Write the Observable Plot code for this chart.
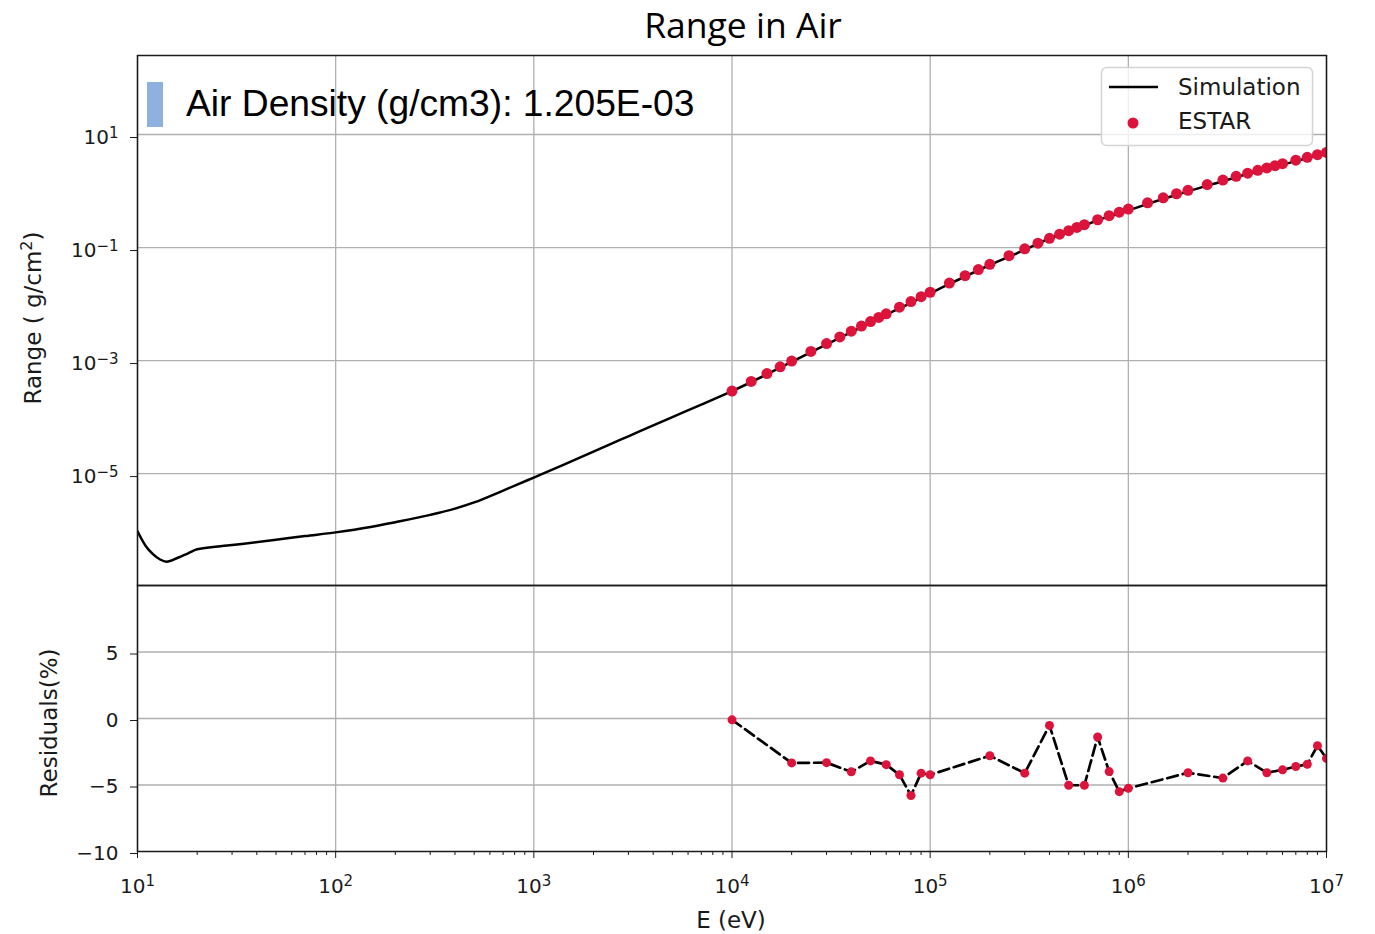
<!DOCTYPE html>
<html>
<head>
<meta charset="utf-8">
<script src="https://cdn.jsdelivr.net/npm/d3@7"></script>
<script src="https://cdn.jsdelivr.net/npm/@observablehq/plot@0.6"></script>
<style>
  html, body { margin: 0; padding: 0; background: white; }
  #wrap { position: relative; width: 1375px; height: 934px; overflow: hidden; background: white; }
  #top, #bottom, #overlay { position: absolute; left: 0; }
  #top { top: 0; }
  #bottom { top: 585px; }
  #overlay { top: 0; pointer-events: none; }
  svg { overflow: visible; }
</style>
</head>
<body>
<div id="wrap">
  <div id="top"></div>
  <div id="bottom"></div>
  <svg id="overlay" width="1375" height="934" xmlns="http://www.w3.org/2000/svg">
    <text x="743" y="38" text-anchor="middle" font-family="Open Sans" font-size="35.5" fill="#000">Range in Air</text>
    <rect x="147" y="82" width="16" height="45" fill="#8eb1df"></rect>
    <text x="186" y="116" font-family="Liberation Sans" font-size="37.2" fill="#000">Air Density (g/cm3): 1.205E-03</text>
    <rect x="1101.5" y="67.5" width="211" height="78" rx="5" fill="white" fill-opacity="0.8" stroke="#d4d4d4" stroke-width="1.5"></rect>
    <line x1="1109" x2="1158" y1="87" y2="87" stroke="black" stroke-width="2.5"></line>
    <circle cx="1133" cy="123" r="5.5" fill="#dc143c"></circle>
    <text x="1178" y="95" font-family="DejaVu Sans" font-size="23" fill="#1a1a1a">Simulation</text>
    <text x="1178" y="129" font-family="DejaVu Sans" font-size="23" fill="#1a1a1a">ESTAR</text>
    <text transform="translate(41,318) rotate(-90)" text-anchor="middle" font-family="DejaVu Sans" font-size="23" fill="#1a1a1a">Range ( g/cm<tspan dy="-9" font-size="16">2</tspan><tspan dy="9">)</tspan></text>
    <text transform="translate(57,723) rotate(-90)" text-anchor="middle" font-family="DejaVu Sans" font-size="23" fill="#1a1a1a">Residuals(%)</text>
    <text x="731" y="928" text-anchor="middle" font-family="DejaVu Sans" font-size="23" fill="#1a1a1a">E (eV)</text>
  </svg>
</div>
<script>
// ---------------- data ----------------
// ESTAR CSDA range in air (energy in eV, range in g/cm^2)
const estarE = [1e4,1.25e4,1.5e4,1.75e4,2e4,2.5e4,3e4,3.5e4,4e4,4.5e4,5e4,5.5e4,6e4,7e4,8e4,9e4,
  1e5,1.25e5,1.5e5,1.75e5,2e5,2.5e5,3e5,3.5e5,4e5,4.5e5,5e5,5.5e5,6e5,7e5,8e5,9e5,
  1e6,1.25e6,1.5e6,1.75e6,2e6,2.5e6,3e6,3.5e6,4e6,4.5e6,5e6,5.5e6,6e6,7e6,8e6,9e6,1e7];
const estarR = [2.88e-4,4.27e-4,5.89e-4,7.74e-4,9.80e-4,1.452e-3,2.002e-3,2.625e-3,3.318e-3,4.078e-3,4.902e-3,5.787e-3,6.731e-3,8.788e-3,1.106e-2,1.353e-2,
  1.618e-2,2.355e-2,3.178e-2,4.078e-2,5.050e-2,7.17e-2,9.50e-2,1.197e-1,1.454e-1,1.720e-1,1.991e-1,2.266e-1,2.543e-1,3.104e-1,3.667e-1,4.230e-1,
  4.793e-1,6.19e-1,7.58e-1,8.95e-1,1.031,1.298,1.560,1.818,2.071,2.320,2.565,2.806,3.043,3.506,3.955,4.392,4.817];

// Simulation curve (energy in eV, range in g/cm^2)
const simE = [10,11,12,13,14,16,18,20,30,50,70,100,150,200,300,400,500,700,1000,1400,2000,3000,5000,7000,
  1e4,2e4,3e4,4e4,5e4,6e4,7e4,8e4,9e4,1e5,2e5,3e5,4e5,5e5,6e5,7e5,8e5,9e5,
  1e6,2e6,3e6,4e6,5e6,6e6,7e6,8e6,9e6,1e7];
const simR = [9.55e-7,5.25e-7,3.72e-7,3.02e-7,2.75e-7,3.24e-7,3.89e-7,4.57e-7,5.43e-7,6.76e-7,7.85e-7,9.12e-7,1.135e-6,1.38e-6,1.86e-6,2.40e-6,3.09e-6,5.01e-6,8.51e-6,1.41e-5,2.45e-5,4.57e-5,1.0e-4,1.66e-4,
  2.877e-4,9.47e-4,1.936e-3,3.185e-3,4.745e-3,6.497e-3,8.416e-3,1.042e-2,1.298e-2,1.550e-2,4.909e-2,9.11e-2,0.1447,0.1891,0.2416,0.3061,0.3520,0.3997,
  0.4541,0.9888,1.490,2.005,2.460,2.924,3.380,3.820,4.302,4.672];

// Residuals (%)
const resE = [1e4,2e4,3e4,4e4,5e4,6e4,7e4,8e4,9e4,1e5,2e5,3e5,4e5,5e5,6e5,7e5,8e5,9e5,
  1e6,2e6,3e6,4e6,5e6,6e6,7e6,8e6,9e6,1e7];
const resV = [-0.1,-3.34,-3.32,-4.01,-3.19,-3.47,-4.23,-5.79,-4.11,-4.23,-2.80,-4.11,-0.52,-5.02,-5.02,-1.39,-3.99,-5.50,
  -5.25,-4.08,-4.48,-3.19,-4.08,-3.86,-3.61,-3.44,-2.05,-3.0];

// ticks
const decades = [10,100,1000,1e4,1e5,1e6,1e7];
const minorTicks = [20,30,40,50,60,70,80,90,200,300,400,500,600,700,800,900,
  2000,3000,4000,5000,6000,7000,8000,9000,2e4,3e4,4e4,5e4,6e4,7e4,8e4,9e4,
  2e5,3e5,4e5,5e5,6e5,7e5,8e5,9e5,2e6,3e6,4e6,5e6,6e6,7e6,8e6,9e6];
const rangeTicks = [10,0.1,1e-3,1e-5];
const resTicks = [-10,-5,0,5];
const resGrid = [-5,0,5];

// ---------------- tables ----------------
const estar = estarE.map((E,i) => ({E, R: estarR[i]}));
const sim = simE.map((E,i) => ({E, R: simR[i]}));
const res = resE.map((E,i) => ({E, V: resV[i]}));

// "10^k" labels; the exponent is turned into a superscript tspan after rendering
const pow10 = d => { const k = Math.round(Math.log10(d)); return "10^" + (k < 0 ? "\u2212" + (-k) : String(k)); };
function superscripts(svg) {
  d3.select(svg).selectAll("text").each(function() {
    const m = this.textContent.match(/^10\^(.+)$/);
    if (m) {
      const s = d3.select(this);
      s.text("10");
      s.append("tspan").attr("dy", "-0.42em").attr("font-size", "0.75em").text(m[1]);
    }
  });
  return svg;
}

const gridColor = "#b0b0b0";
const common = {
  width: 1375,
  marginLeft: 137,
  marginRight: 49,
  style: {fontFamily: "DejaVu Sans", fontSize: "20px", background: "transparent", color: "#1a1a1a", overflow: "visible"}
};

const topPlot = Plot.plot({
  ...common,
  height: 590,
  marginTop: 55,
  marginBottom: 5,
  x: {type: "log", domain: [10, 1e7], axis: null},
  y: {type: "log", domain: [Math.pow(10, -6.98), Math.pow(10, 2.398)]},
  marks: [
    Plot.gridX(decades, {stroke: gridColor, strokeOpacity: 1, strokeWidth: 1.3}),
    Plot.gridY(rangeTicks, {stroke: gridColor, strokeOpacity: 1, strokeWidth: 1.3}),
    Plot.axisY(rangeTicks, {tickSize: 7, tickPadding: 12, tickFormat: pow10, label: null, dy: 3, stroke: "#1a1a1a"}),
    Plot.line(sim, {x: "E", y: "R", stroke: "black", strokeWidth: 2.5, curve: "monotone-x", clip: true}),
    Plot.dot(estar, {x: "E", y: "R", fill: "#dc143c", r: 5.5, clip: true}),
    Plot.frame({stroke: "#1a1a1a", strokeWidth: 1.5})
  ]
});

const bottomPlot = Plot.plot({
  ...common,
  height: 349,
  marginTop: 0,
  marginBottom: 83,
  x: {type: "log", domain: [10, 1e7]},
  y: {domain: [-10, 10]},
  marks: [
    Plot.gridX(decades, {stroke: gridColor, strokeOpacity: 1, strokeWidth: 1.3}),
    Plot.gridY(resGrid, {stroke: gridColor, strokeOpacity: 1, strokeWidth: 1.3}),
    Plot.axisX(decades, {tickSize: 7, tickPadding: 20, tickFormat: pow10, label: null, stroke: "#1a1a1a"}),
    Plot.axisX(minorTicks, {tickSize: 4, tickFormat: () => "", label: null, stroke: "#1a1a1a"}),
    Plot.axisY(resTicks, {tickSize: 7, tickPadding: 12, tickFormat: d => (d < 0 ? "\u2212" + Math.abs(d) : String(d)), label: null, dy: 2, stroke: "#1a1a1a"}),
    Plot.line(res, {x: "E", y: "V", stroke: "black", strokeWidth: 2.7, strokeDasharray: "11,5", clip: true}),
    Plot.dot(res, {x: "E", y: "V", fill: "#dc143c", r: 4.5, clip: true}),
    Plot.frame({stroke: "#1a1a1a", strokeWidth: 1.5})
  ]
});

document.getElementById("top").appendChild(superscripts(topPlot));
document.getElementById("bottom").appendChild(superscripts(bottomPlot));
</script>
</body>
</html>
